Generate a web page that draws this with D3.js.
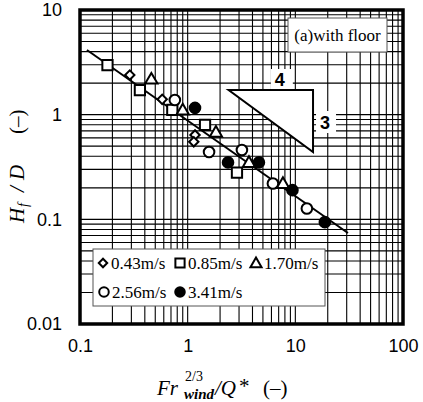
<!DOCTYPE html>
<meta charset="utf-8">
<title>Hf/D with floor</title>
<style>
  body { margin:0; background:#fff; }
  .axis .tick text { font-family:"Liberation Sans", Arial, sans-serif; font-size:18px; fill:#000; }
  .grid line { stroke:#000; stroke-width:1.1; }
  .serif { font-family:"Liberation Serif", "Times New Roman", serif; fill:#000; }
</style>
<body>
<svg width="423" height="402" id="chart"></svg>
<script src="https://d3js.org/d3.v7.min.js"></script>
<script>
// wind speed groups and their marker
var speeds = ["0.43m/s", "0.85m/s", "1.70m/s", "2.56m/s", "3.41m/s"];
var marks  = ["diamond", "square", "triangle", "circle", "dot"];

// Fr_wind^(2/3)/Q*  and  Hf/D
var x043 = [0.29, 0.58, 1.17, 1.14];
var y043 = [2.39, 1.40, 0.64, 0.55];
var x085 = [0.18, 0.36, 0.72, 1.45, 2.87];
var y085 = [2.98, 1.72, 1.11, 0.80, 0.28];
var x170 = [0.46, 0.90, 1.83, 3.71, 7.67];
var y170 = [2.19, 1.11, 0.68, 0.35, 0.22];
var x256 = [0.76, 1.58, 3.19, 6.19, 12.8];
var y256 = [1.38, 0.44, 0.46, 0.22, 0.127];
var x341 = [1.17, 2.37, 4.59, 9.40, 18.8];
var y341 = [1.16, 0.35, 0.35, 0.19, 0.094];

var xs = [x043, x085, x170, x256, x341];
var ys = [y043, y085, y170, y256, y341];

// fitted line (slope -3/4) end points
var fitX = [0.116, 30.8];
var fitY = [4.15, 0.074];

// 4:3 slope triangle corners
var triX = [2.4, 14.6];
var triY = [1.72, 0.44];

var xTicks = [0.1, 1, 10, 100];
var xLabels = ["0.1", "1", "10", "100"];
var yTicks = [0.01, 0.1, 1, 10];
var yLabels = ["0.01", "0.1", "1", "10"];

var svg = d3.select("#chart");

var x = d3.scaleLog().domain([0.1, 100]).range([80, 403]);
var y = d3.scaleLog().domain([0.01, 10]).range([324, 10]);

svg.append("rect").attr("width", 423).attr("height", 402).attr("fill", "#fff");

/* log grid */
var gx = [], gy = [];
[0.1, 1, 10].forEach(function(d) { for (var k = 1; k < 10; k++) gx.push(k * d); });
[0.01, 0.1, 1].forEach(function(d) { for (var k = 1; k < 10; k++) gy.push(k * d); });

var grid = svg.append("g").attr("class", "grid");
grid.selectAll(".vx").data(gx).enter().append("line")
    .attr("x1", function(d) { return x(d); }).attr("x2", function(d) { return x(d); })
    .attr("y1", y(0.01)).attr("y2", y(10));
grid.selectAll(".hy").data(gy).enter().append("line")
    .attr("y1", function(d) { return y(d); }).attr("y2", function(d) { return y(d); })
    .attr("x1", x(0.1)).attr("x2", x(100));

/* slope triangle */
svg.append("path")
    .attr("d", "M" + x(triX[0]) + "," + y(triY[0]) + "L" + x(triX[1]) + "," + y(triY[0]) +
               "L" + x(triX[1]) + "," + y(triY[1]) + "Z")
    .attr("fill", "#fff").attr("stroke", "#000").attr("stroke-width", 2);

var tx4 = (x(triX[0]) + x(triX[1])) / 2 + 9, ty4 = y(triY[0]) - 10;
svg.append("rect").attr("x", tx4 - 9).attr("y", ty4 - 11).attr("width", 22).attr("height", 20).attr("fill", "#fff");
svg.append("text").attr("x", tx4).attr("y", ty4 + 6).attr("text-anchor", "middle")
    .attr("font-family", "Liberation Sans, Arial, sans-serif").attr("font-size", 18).attr("font-weight", "bold")
    .text("4");
var tx3 = x(triX[1]) + 12, ty3 = (y(triY[0]) + y(triY[1])) / 2 + 1;
svg.append("rect").attr("x", tx3 - 9).attr("y", ty3 - 11).attr("width", 20).attr("height", 22).attr("fill", "#fff");
svg.append("text").attr("x", tx3).attr("y", ty3 + 7).attr("text-anchor", "middle")
    .attr("font-family", "Liberation Sans, Arial, sans-serif").attr("font-size", 18).attr("font-weight", "bold")
    .text("3");

/* panel tag */
svg.append("rect").attr("x", 288).attr("y", 18).attr("width", 99).attr("height", 34)
    .attr("fill", "#fff").attr("stroke", "#555").attr("stroke-width", 1);
svg.append("text").attr("class", "serif").attr("x", 337.5).attr("y", 41)
    .attr("text-anchor", "middle").attr("font-size", 17).text("(a)with floor");

/* fit line */
svg.append("line")
    .attr("x1", x(fitX[0])).attr("y1", y(fitY[0]))
    .attr("x2", x(fitX[1])).attr("y2", y(fitY[1]))
    .attr("stroke", "#000").attr("stroke-width", 2);

/* markers */
function drawMark(g, kind, cx, cy, s) {
    s = s || 1;
    if (kind == "circle" || kind == "dot") {
        g.append("circle").attr("cx", cx).attr("cy", cy).attr("r", 5.3 * s)
            .attr("fill", kind == "dot" ? "#000" : "#fff").attr("stroke", "#000").attr("stroke-width", 2);
        return;
    }
    var sym, size, rot = 0, dy = 0;
    if (kind == "square") { sym = d3.symbolSquare; size = 105; }
    if (kind == "diamond") { sym = d3.symbolSquare; size = 44; rot = 45; }
    if (kind == "triangle") { sym = d3.symbolTriangle; size = 66; dy = 1; }
    g.append("path")
        .attr("d", d3.symbol().type(sym).size(size * s * s)())
        .attr("transform", "translate(" + cx + "," + (cy + dy) + ") rotate(" + rot + ")")
        .attr("fill", "#fff").attr("stroke", "#000").attr("stroke-width", 2);
}

var pts = svg.append("g");
xs.forEach(function(arr, i) {
    arr.forEach(function(v, j) { drawMark(pts, marks[i], x(v), y(ys[i][j])); });
});

/* legend */
svg.append("rect").attr("x", 93).attr("y", 249).attr("width", 232).attr("height", 57)
    .attr("fill", "#fff").attr("stroke", "#555").attr("stroke-width", 1);
var legPos = [[103, 263], [180, 263], [256, 263], [104, 292], [180, 292]];
speeds.forEach(function(s, i) {
    drawMark(svg, marks[i], legPos[i][0], legPos[i][1], 0.9);
    svg.append("text").attr("class", "serif").attr("x", legPos[i][0] + 8).attr("y", legPos[i][1] + 6)
        .attr("font-size", 17).text(s);
});

/* frame */
svg.append("rect").attr("x", 80).attr("y", 10).attr("width", 323).attr("height", 314)
    .attr("fill", "none").attr("stroke", "#000").attr("stroke-width", 3.5);

/* axes labels */
svg.append("g").attr("class", "axis")
    .attr("transform", "translate(80,0)")
    .call(d3.axisLeft(y).tickValues(yTicks).tickSize(0).tickPadding(18)
        .tickFormat(function(d, i) { return yLabels[i]; }))
  .select(".domain").remove();

svg.append("g").attr("class", "axis")
    .attr("transform", "translate(0,324)")
    .call(d3.axisBottom(x).tickValues(xTicks).tickSize(0).tickPadding(15)
        .tickFormat(function(d, i) { return xLabels[i]; }))
  .select(".domain").remove();

/* x title */
var xt = svg.append("text").attr("class", "serif").attr("font-size", 21);
xt.append("tspan").attr("x", 157).attr("y", 395).attr("font-style", "italic").text("Fr");
xt.append("tspan").attr("x", 185).attr("y", 381).attr("font-size", 14).text("2/3");
xt.append("tspan").attr("x", 184).attr("y", 399).attr("font-size", 15).attr("font-style", "italic")
    .attr("font-weight", "bold").text("wind");
xt.append("tspan").attr("x", 215).attr("y", 395).attr("font-style", "italic").text("/Q");
xt.append("tspan").attr("x", 239).attr("y", 393).text("*");
xt.append("tspan").attr("x", 263).attr("y", 395).text("(\u2013)");

/* y title */
var yt = svg.append("text").attr("class", "serif").attr("font-size", 21)
    .attr("transform", "translate(24,223) rotate(-90)");
yt.append("tspan").attr("x", 0).attr("y", 0).attr("font-style", "italic").text("H");
yt.append("tspan").attr("x", 16).attr("y", 4).attr("font-size", 14).attr("font-style", "italic").text("f");
yt.append("tspan").attr("x", 31).attr("y", 0).attr("font-style", "italic").text("/");
yt.append("tspan").attr("x", 43).attr("y", 0).attr("font-style", "italic").text("D");
yt.append("tspan").attr("x", 89).attr("y", 0).text("(\u2013)");
</script>
</body>
